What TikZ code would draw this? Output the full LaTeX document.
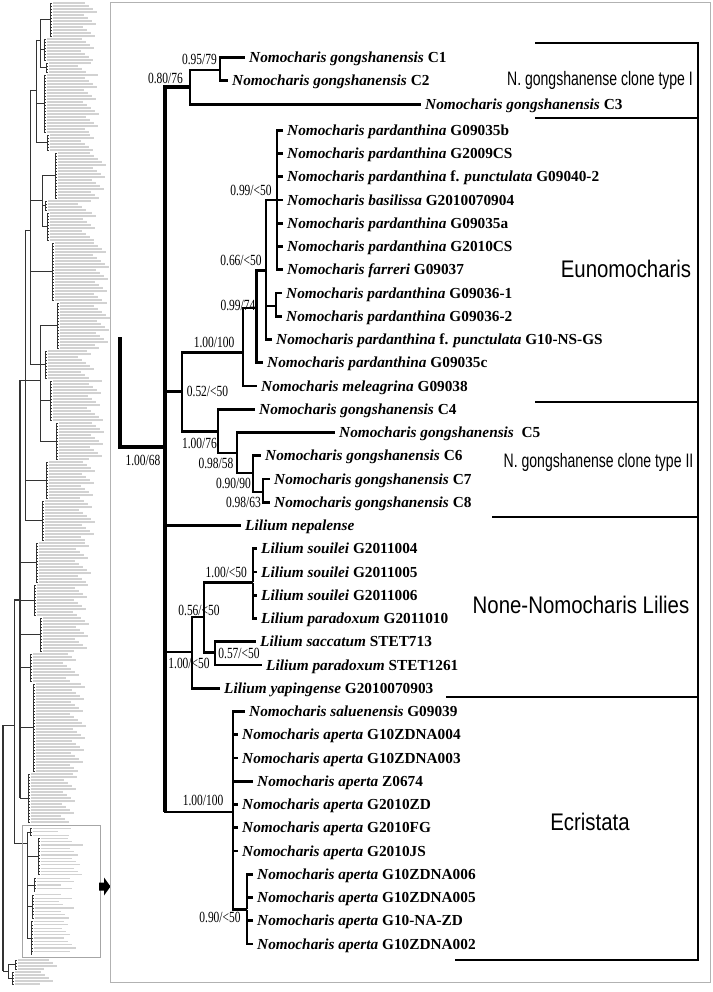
\documentclass[tikz,border=0pt]{standalone}
\usepackage{fontspec}
\setmainfont{Liberation Serif}
\newfontfamily\supfont[FakeStretch=0.74]{Liberation Serif}
\newfontfamily\grpfont[FakeStretch=0.85]{Liberation Sans}
\newfontfamily\clonefont[FakeStretch=0.72]{Liberation Sans}
\usepackage{tikz}
\newcommand{\taxon}[2]{\textit{#1} #2}
\tikzset{taxon/.style={anchor=west,inner xsep=4pt,inner ysep=0pt,text height=10.3pt,text depth=0pt,font=\bfseries\fontsize{15.3}{15.3}\selectfont},
            support/.style={inner sep=0pt,font=\supfont\fontsize{15.5}{15.5}\selectfont},
            group label/.style={inner sep=0pt,font=\grpfont\fontsize{24}{24}\selectfont},
            clone label/.style={inner sep=0pt,font=\clonefont\fontsize{19.5}{19.5}\selectfont},
            knot/.style={inner sep=0,minimum size=0},
            branch/.style={line width=2.8pt},
            trunk/.style={line width=4.6pt},
            group bar/.style={line width=2.4pt},
            }

\begin{document}
\begin{tikzpicture}[x=1pt,y=-1pt]
					\useasboundingbox (0,0) rectangle (712,992);
					% overview of the whole tree
					\begin{scope}[line width=0.5pt,black!80]
						\foreach \ya/\yb/\xv/\xp/\len/\st in {3/36/50/40/28/3,39/60/44/40/34/3,63/72/46/40/26/3,75/132/44/36/36/3,135/150/47/36/30/3,153/198/55/42/32/3,201/210/45/42/30/3,213/240/47/42/30/3,243/300/52/30/38/3,303/348/57/40/34/3,351/378/45/30/30/3,381/420/50/40/34/3,423/459/56/40/30/3,462/498/46/25/30/3,501/540/42/25/34/3,543/582/36/20/36/3,585/615/34/20/36/3,618/651/40/20/30/3,654/681/30/20/30/3,684/771/33/20/34/3,774/822/28/20/30/3,828.5/835.1/30/27/22/3.3,838.4/875/38/27/26/3.3,878.3/891.5/34/27/24/3.3,894.8/918/32/27/24/3.3,921.5/954.5/31/27/26/3.3,960/969/15/8/26/3,972/984/12/8/22/3}{
							\pgfmathsetmacro\ym{(\ya+\yb)/2}
							\pgfmathsetmacro\yn{\ya+\st}
							\draw (\xp,\ym) -- (\xv,\ym);
							\draw (\xv,\ya) -- (\xv,\yb);
							\foreach \yy in {\ya,\yn,...,\yb}{
								\pgfmathsetmacro\ll{\len+mod(int(\yy)*7,17)}
								\draw (\xv,\yy) -- ++(2,0);
								\fill[gray!35] (\xv+3,\yy-0.6) rectangle ++(\ll,1.2);
							}
						}
						\foreach \x/\ya/\yb/\xp/\ym in {40/19.5/67.5/36/40,36/40/142.5/30/90,42/175.5/226.5/30/200,30/90/364.5/25/230,40/325.5/441/25/380,25/230/520.5/20/380,27/831.8/938/14/843,14/600/843/3/725,8/964.5/978/3/971}{
							\draw (\x,\ya) -- (\x,\yb);
							\draw (\xp,\ym) -- (\x,\ym);
						}
						\draw[line width=1.2pt] (20,380) -- (20,798);
						\draw[line width=1.2pt] (20,600) -- (14,600);
						\draw[line width=1.2pt] (3,725) -- (3,971);
					\end{scope}
					\draw[gray!70,line width=0.8pt] (22.7,825) rectangle (100,957.3);
					\fill (99,882.5) -- (104,882.5) -- (104,877.5) -- (110.5,886.5) -- (104,895.5) -- (104,890.5) -- (99,890.5) -- cycle;
					\draw[gray!60,line width=0.8pt] (110,2) rectangle (710.5,982.5);
					
					% branch points
					\node[knot] (rt) at (120,337) {};
					\node[knot] (ing) at (165,447) {};
					\node[knot] (c080) at (190,87) {};
					\node[knot] (c095) at (220,70) {};
					\node[knot] (cA) at (182,391.7) {};
					\node[knot] (cEu) at (243,352.7) {};
					\node[knot] (c099) at (256.5,308) {};
					\node[knot] (c066) at (266,270.7) {};
					\node[knot] (c99b) at (277,200) {};
					\node[knot] (cpair) at (276,306) {};
					\node[knot] (cB) at (218,431.7) {};
					\node[knot] (c098) at (237,453) {};
					\node[knot] (c090) at (253,473) {};
					\node[knot] (c0963) at (263,492) {};
					\node[knot] (cLil) at (192,652) {};
					\node[knot] (c056) at (204,617) {};
					\node[knot] (c100s) at (253,582.3) {};
					\node[knot] (c057) at (215,652.7) {};
					\node[knot] (cEcr) at (233,812) {};
					\node[knot] (c090e) at (247,909.3) {};
					
					% taxa
					\node[taxon] (gC1) at (245,57.3) {\taxon{Nomocharis gongshanensis}{C1}};
					\node[taxon] (gC2) at (228,80.5) {\taxon{Nomocharis gongshanensis}{C2}};
					\node[taxon] (gC3) at (421,104.3) {\taxon{Nomocharis gongshanensis}{C3}};
					\node[taxon] (pb) at (283,130.2) {\taxon{Nomocharis pardanthina}{G09035b}};
					\node[taxon] (p2009) at (283,153.45) {\taxon{Nomocharis pardanthina}{G2009CS}};
					\node[taxon] (pf1) at (283,176.7) {\taxon{Nomocharis pardanthina}{f. \textit{punctulata} G09040-2}};
					\node[taxon] (bas) at (283,199.95) {\taxon{Nomocharis basilissa}{G2010070904}};
					\node[taxon] (pa) at (283,223.2) {\taxon{Nomocharis pardanthina}{G09035a}};
					\node[taxon] (p2010) at (283,246.45) {\taxon{Nomocharis pardanthina}{G2010CS}};
					\node[taxon] (far) at (283,269.7) {\taxon{Nomocharis farreri}{G09037}};
					\node[taxon] (p361) at (282,292.95) {\taxon{Nomocharis pardanthina}{G09036-1}};
					\node[taxon] (p362) at (282,316.2) {\taxon{Nomocharis pardanthina}{G09036-2}};
					\node[taxon] (pf2) at (272,339.45) {\taxon{Nomocharis pardanthina}{f. \textit{punctulata} G10-NS-GS}};
					\node[taxon] (pc) at (263,362.7) {\taxon{Nomocharis pardanthina}{G09035c}};
					\node[taxon] (mel) at (257,385.95) {\taxon{Nomocharis meleagrina}{G09038}};
					\node[taxon] (gC4) at (255,409.2) {\taxon{Nomocharis gongshanensis}{C4}};
					\node[taxon] (gC5) at (335,432.45) {\taxon{Nomocharis gongshanensis}{\ C5}};
					\node[taxon] (gC6) at (261,455.7) {\taxon{Nomocharis gongshanensis}{C6}};
					\node[taxon] (gC7) at (270,478.95) {\taxon{Nomocharis gongshanensis}{C7}};
					\node[taxon] (gC8) at (270,502.2) {\taxon{Nomocharis gongshanensis}{C8}};
					\node[taxon] (nep) at (241,525.45) {\textit{Lilium nepalense}};
					\node[taxon] (s04) at (257,548.7) {\taxon{Lilium souilei}{G2011004}};
					\node[taxon] (s05) at (257,571.95) {\taxon{Lilium souilei}{G2011005}};
					\node[taxon] (s06) at (257,595.2) {\taxon{Lilium souilei}{G2011006}};
					\node[taxon] (par10) at (257,618.45) {\taxon{Lilium paradoxum}{G2011010}};
					\node[taxon] (sac) at (256,641.7) {\taxon{Lilium saccatum}{STET713}};
					\node[taxon] (par61) at (262,664.95) {\taxon{Lilium paradoxum}{STET1261}};
					\node[taxon] (yap) at (220,688.2) {\taxon{Lilium yapingense}{G2010070903}};
					\node[taxon] (sal) at (245,711.45) {\taxon{Nomocharis saluenensis}{G09039}};
					\node[taxon] (a004) at (238,734.7) {\taxon{Nomocharis aperta}{G10ZDNA004}};
					\node[taxon] (a003) at (238,757.95) {\taxon{Nomocharis aperta}{G10ZDNA003}};
					\node[taxon] (a674) at (253,781.2) {\taxon{Nomocharis aperta}{Z0674}};
					\node[taxon] (azd) at (238,804.45) {\taxon{Nomocharis aperta}{G2010ZD}};
					\node[taxon] (afg) at (238,827.7) {\taxon{Nomocharis aperta}{G2010FG}};
					\node[taxon] (ajs) at (238,850.95) {\taxon{Nomocharis aperta}{G2010JS}};
					\node[taxon] (a006) at (253,874.2) {\taxon{Nomocharis aperta}{G10ZDNA006}};
					\node[taxon] (a005) at (253,897.45) {\taxon{Nomocharis aperta}{G10ZDNA005}};
					\node[taxon] (anz) at (253,920.7) {\taxon{Nomocharis aperta}{G10-NA-ZD}};
					\node[taxon] (a002) at (253,943.95) {\taxon{Nomocharis aperta}{G10ZDNA002}};
					
					% branches
					\draw[trunk] (rt) |- (ing);
					\draw[trunk] (ing |- c080) -- (ing |- cEcr);
					\draw[trunk] (ing) |- (c080);
					\draw[branch] (ing) |- (cA);
					\draw[branch] (ing) |- (nep);
					\draw[branch] (ing) |- (cLil);
					\draw[branch] (ing) |- (cEcr);
					\draw[branch] (c080) |- (c095);
					\draw[branch] (c080) |- (gC3);
					\draw[branch] (c095) |- (gC1);
					\draw[branch] (c095) |- (gC2);
					\draw[branch] (cA) |- (cEu);
					\draw[branch] (cA) |- (cB);
					\draw[branch] (cEu) |- (c099);
					\draw[branch] (cEu) |- (mel);
					\draw[branch] (c099) |- (c066);
					\draw[branch] (c099) |- (pc);
					\draw[branch] (c066) |- (c99b);
					\draw[branch] (c066) |- (cpair);
					\draw[branch] (c066) |- (pf2);
					\foreach \t in {pb,p2009,pf1,bas,pa,p2010,far}
						\draw[branch] (c99b) |- (\t);
					\draw[branch] (cpair) |- (p361);
					\draw[branch] (cpair) |- (p362);
					\draw[branch] (cB) |- (gC4);
					\draw[branch] (cB) |- (c098);
					\draw[branch] (c098) |- (gC5);
					\draw[branch] (c098) |- (c090);
					\draw[branch] (c090) |- (gC6);
					\draw[branch] (c090) |- (c0963);
					\draw[branch] (c0963) |- (gC7);
					\draw[branch] (c0963) |- (gC8);
					\draw[branch] (cLil) |- (c056);
					\draw[branch] (cLil) |- (yap);
					\draw[branch] (c056) |- (c100s);
					\draw[branch] (c056) |- (c057);
					\foreach \t in {s04,s05,s06,par10}
						\draw[branch] (c100s) |- (\t);
					\draw[branch] (c057) |- (sac);
					\draw[branch] (c057) |- (par61);
					\foreach \t in {sal,a004,a003,a674,azd,afg,ajs}
						\draw[branch] (cEcr) |- (\t);
					\draw[branch] (cEcr) |- (c090e);
					\foreach \t in {a006,a005,anz,a002}
						\draw[branch] (c090e) |- (\t);
					
					% support values
					\node[support] (s1) at (199.5,59) {0.95/79};
					\node[support] (s2) at (165.5,78) {0.80/76};
					\node[support] (s3) at (251,190.5) {0.99/<50};
					\node[support] (s4) at (241,260) {0.66/<50};
					\node[support] (s5) at (238,305) {0.99/74};
					\node[support] (s6) at (214,342.7) {1.00/100};
					\node[support] (s7) at (207.5,391.7) {0.52/<50};
					\node[support] (s8) at (199.5,443) {1.00/76};
					\node[support] (s9) at (216,463) {0.98/58};
					\node[support] (s10) at (233.5,483) {0.90/90};
					\node[support] (s11) at (243.5,502) {0.98/63};
					\node[support] (s12) at (143,460) {1.00/68};
					\node[support] (s13) at (226.3,572) {1.00/<50};
					\node[support] (s14) at (199,610) {0.56/<50};
					\node[support] (s15) at (239,653) {0.57/<50};
					\node[support] (s16) at (189,663) {1.00/<50};
					\node[support] (s17) at (203,800) {1.00/100};
					\node[support] (s18) at (220,917) {0.90/<50};
					
					% groups
					\foreach \ya/\xa in {43/535,118/535,401.7/535,516.7/492,696.7/446,960/455}
						\draw[group bar] (\xa,\ya) -- (698,\ya);
					\draw[group bar] (698,41.8) -- (698,961.2);
					\node[clone label] (gI) at (600,80) {N. gongshanense clone type I};
					\node[group label] (eu) at (626,269) {Eunomocharis};
					\node[clone label] (gII) at (598.5,462) {N. gongshanense clone type II};
					\node[group label] (li) at (581,605) {None-Nomocharis Lilies};
					\node[group label] (ec) at (590,822) {Ecristata};
				\end{tikzpicture}
\end{document}
